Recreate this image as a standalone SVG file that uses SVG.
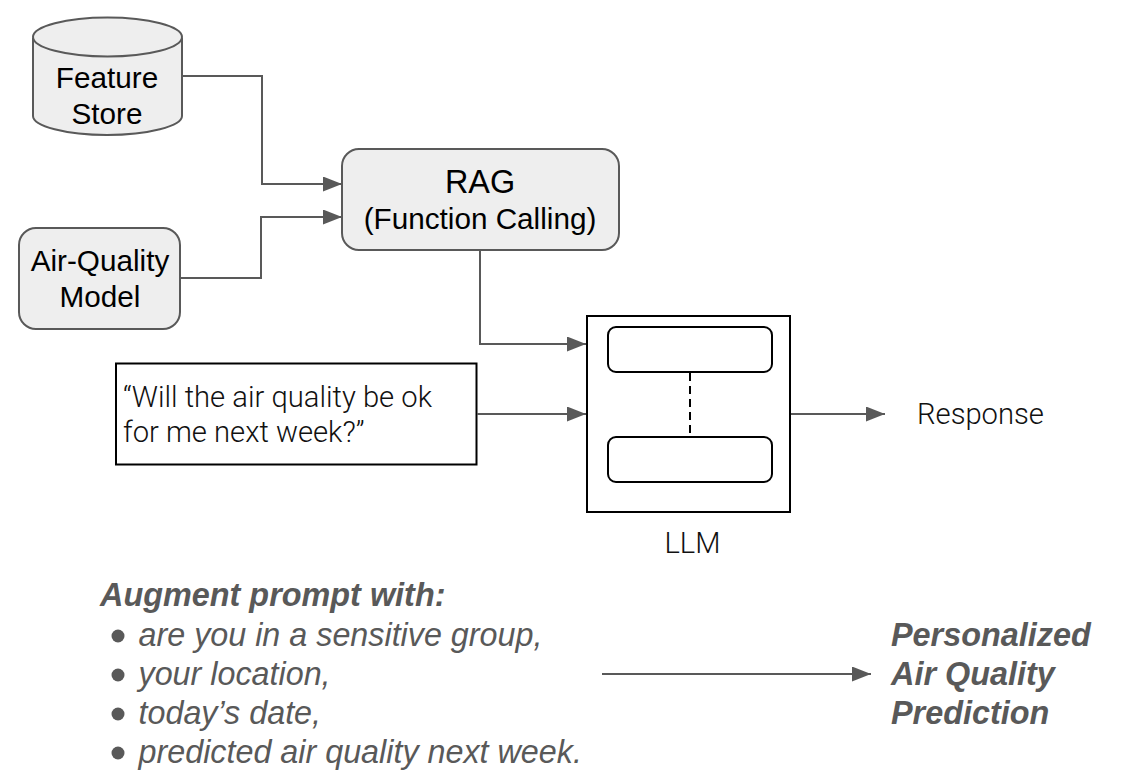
<svg xmlns="http://www.w3.org/2000/svg" width="1129" height="783" viewBox="0 0 1129 783">
<style>
.n{fill:#eeeeee;stroke:#595959;stroke-width:2}
.b{fill:#fff;stroke:#000;stroke-width:2}
.t{font-family:"Liberation Sans",Arial,sans-serif;font-size:29.700px;fill:#000;text-anchor:middle}
.r{font-size:32.400px}
.d{font-family:Roboto,"Open Sans",sans-serif;font-size:29.200px;font-weight:300;fill:#111}
.i{font-family:"Liberation Sans",Arial,sans-serif;font-size:32.300px;font-style:italic;fill:#595959}
.h{font-family:"Liberation Sans",Arial,sans-serif;font-size:32.400px;font-style:italic;font-weight:bold;fill:#595959}
.c{fill:none;stroke:#595959;stroke-width:2}
.bu{fill:#595959}
</style>
<defs>
<marker id="a" markerUnits="userSpaceOnUse" markerWidth="20" markerHeight="16" refX="19" refY="7.500" orient="auto"><path d="M0 0L19 7.500L0 15Z" fill="#595959"/></marker>
</defs>
<g id="feature-store">
<path class="n" d="M33 38V116C33 126 66 135 107 135S182 126 182 116V38"/>
<ellipse class="n" cx="107.500" cy="37" rx="74.500" ry="19.500"/>
<text class="t" x="107" y="88">Feature</text>
<text class="t" x="107" y="124">Store</text>
</g>
<g id="air-quality-model">
<rect class="n" x="19" y="228" width="161" height="101" rx="17"/>
<text class="t" x="100" y="271">Air-Quality</text>
<text class="t" x="100" y="307">Model</text>
</g>
<g id="rag">
<rect class="n" x="342" y="149" width="277" height="101" rx="17"/>
<text class="t r" x="480" y="193">RAG</text>
<text class="t" x="480" y="229">(Function Calling)</text>
</g>
<g id="prompt">
<rect class="b" x="116" y="363.500" width="360.500" height="101"/>
<text class="d" x="123" y="407">“Will the air quality be ok</text>
<text class="d" x="123" y="442">for me next week?”</text>
</g>
<g id="llm">
<rect class="b" x="587" y="316" width="203" height="196"/>
<rect class="b" x="608" y="327" width="164" height="45" rx="8"/>
<rect class="b" x="608" y="437" width="164" height="45" rx="8"/>
<text class="d" x="692.500" y="553" text-anchor="middle">LLM</text>
</g>
<g id="response">
<text class="d" x="917" y="424">Response</text>
</g>
<g id="augment">
<text class="h" x="100" y="606">Augment prompt with:</text>
<circle class="bu" cx="118" cy="636" r="6.500"/>
<circle class="bu" cx="118" cy="675" r="6.500"/>
<circle class="bu" cx="118" cy="714" r="6.500"/>
<circle class="bu" cx="118" cy="753" r="6.500"/>
<text class="i" x="138.500" y="645.500">are you in a sensitive group,</text>
<text class="i" x="138.500" y="684.500">your location,</text>
<text class="i" x="138.500" y="723.500">today’s date,</text>
<text class="i" x="138.500" y="762.500">predicted air quality next week.</text>
</g>
<g id="prediction">
<text class="h" x="891" y="646">Personalized</text>
<text class="h" x="891" y="685">Air Quality</text>
<text class="h" x="891" y="724">Prediction</text>
</g>
<g id="connectors">
<path class="c" marker-end="url(#a)" d="M183 76H262V184H342"/>
<path class="c" marker-end="url(#a)" d="M181 278H261V217H342"/>
<path class="c" marker-end="url(#a)" d="M480 250V344H586"/>
<path class="c" marker-end="url(#a)" d="M477 414H586"/>
<path class="c" marker-end="url(#a)" d="M791 414H885"/>
<path class="c" marker-end="url(#a)" d="M602 674H871"/>
<path d="M690 373V436" fill="none" stroke="#000" stroke-width="2" stroke-dasharray="8 5"/>
</g>
</svg>
